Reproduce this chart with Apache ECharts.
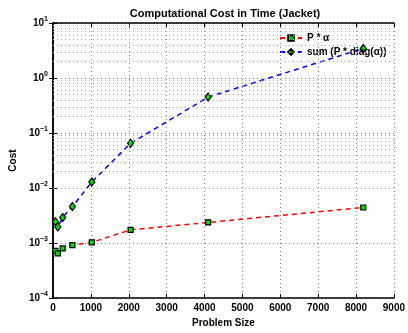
<!DOCTYPE html>
<html><head><meta charset="utf-8">
<script src="https://cdn.jsdelivr.net/npm/echarts@6/dist/echarts.min.js"></script>
<style>html,body{margin:0;padding:0;background:#fff}#c{width:408px;height:333px}</style>
</head><body><div id="c"></div>
<script>
const sizes = [64, 128, 256, 512, 1024, 2048, 4096, 8192];
const costPA = [7.2e-4, 6.5e-4, 8.0e-4, 9.2e-4, 1.03e-3, 1.74e-3, 2.37e-3, 4.43e-3];
const costSum = [2.43e-3, 1.97e-3, 2.92e-3, 4.62e-3, 1.29e-2, 6.5e-2, 0.45, 3.45];
const seriesNames = ['P * α', 'sum (P * diag(α))'];
const xTicks = [0, 1000, 2000, 3000, 4000, 5000, 6000, 7000, 8000, 9000];

const FONT = 'Liberation Sans, Arial, sans-serif';
const minorLines = [];
for (let d = -4; d < 1; d++) for (let m = 2; m <= 9; m++) minorLines.push({ yAxis: m * Math.pow(10, d) });

const chart = echarts.init(document.getElementById('c'), null, { renderer: 'canvas' });
const gridStyle = { type: [1, 3], color: '#8a8a8a', width: 1 };
const minorStyle = { type: [1, 3], color: '#b0b0b0', width: 1 };
chart.setOption({
  animation: false,
  backgroundColor: '#fff',
  title: {
    text: 'Computational Cost in Time (Jacket)', left: 220, top: 3, textAlign: 'center',
    textStyle: { fontFamily: FONT, fontSize: 11, fontWeight: 'bold', color: '#000' }
  },
  legend: {
    orient: 'vertical', left: 274, top: 28, itemGap: 4, itemWidth: 22, itemHeight: 7,
    textStyle: { fontFamily: FONT, fontSize: 10, fontWeight: 'bold', color: '#000' },
    data: seriesNames
  },
  grid: { left: 45, right: 12, top: 23, bottom: 34 },
  xAxis: [{
    type: 'value', min: xTicks[0], max: xTicks[xTicks.length - 1], interval: 1000,
    name: 'Problem Size', nameLocation: 'middle', nameGap: 16,
    nameTextStyle: { fontFamily: FONT, fontSize: 10, fontWeight: 'bold', color: '#000' },
    axisLine: { lineStyle: { color: '#000', width: 1.5 } },
    axisTick: { inside: true, length: 4, lineStyle: { color: '#000' } },
    axisLabel: { fontFamily: FONT, fontSize: 10, fontWeight: 'bold', color: '#000', margin: 5,
      formatter: v => String(v) },
    splitLine: { show: true, lineStyle: gridStyle }
  }, {
    type: 'value', position: 'top', min: 0, max: 9000, interval: 1000,
    axisLine: { lineStyle: { color: '#000', width: 1.5 } },
    axisTick: { inside: true, length: 4, lineStyle: { color: '#000' } },
    axisLabel: { show: false }, splitLine: { show: false }
  }],
  yAxis: [{
    type: 'log', logBase: 10, min: 1e-4, max: 10,
    name: 'Cost', nameLocation: 'middle', nameGap: 28,
    nameTextStyle: { fontFamily: FONT, fontSize: 10, fontWeight: 'bold', color: '#000' },
    axisLine: { show: true, lineStyle: { color: '#000', width: 1.5 } },
    axisTick: { inside: true, length: 4, lineStyle: { color: '#000' } },
    axisLabel: {
      margin: 5,
      formatter: function (v) { const e = Math.round(Math.log10(v)); return '{b|10}{s|' + (e < 0 ? '\u2212' + (-e) : e) + '}'; },
      rich: {
        b: { fontFamily: FONT, fontSize: 10, fontWeight: 'bold', color: '#000' },
        s: { fontFamily: FONT, fontSize: 7, fontWeight: 'bold', color: '#000', padding: [0, 0, 8, 0] }
      }
    },
    splitLine: { show: true, lineStyle: gridStyle }
  }, {
    type: 'log', logBase: 10, min: 1e-4, max: 10, position: 'right',
    axisLine: { show: true, lineStyle: { color: '#000', width: 1.5 } },
    axisTick: { inside: true, length: 4, lineStyle: { color: '#000' } },
    axisLabel: { show: false }, splitLine: { show: false }
  }],
  series: [{
    name: seriesNames[0], type: 'line', xAxisIndex: 0, yAxisIndex: 0,
    data: sizes.map((s, i) => [s, costPA[i]]),
    lineStyle: { color: '#ff0000', width: 1.5, type: [5, 4] },
    itemStyle: { color: '#00e000', borderColor: '#000', borderWidth: 1.2 },
    symbol: 'rect', symbolSize: 5, showAllSymbol: true, z: 3,
    markLine: {
      silent: true, symbol: ['none', 'none'], label: { show: false },
      lineStyle: minorStyle, data: minorLines, animation: false
    }
  }, {
    name: seriesNames[1], type: 'line', xAxisIndex: 0, yAxisIndex: 0,
    data: sizes.map((s, i) => [s, costSum[i]]),
    lineStyle: { color: '#0000ff', width: 1.5, type: [5, 4] },
    itemStyle: { color: '#00e000', borderColor: '#000', borderWidth: 1.2 },
    symbol: 'diamond', symbolSize: [6, 8], showAllSymbol: true, z: 3
  }]
});
</script></body></html>
